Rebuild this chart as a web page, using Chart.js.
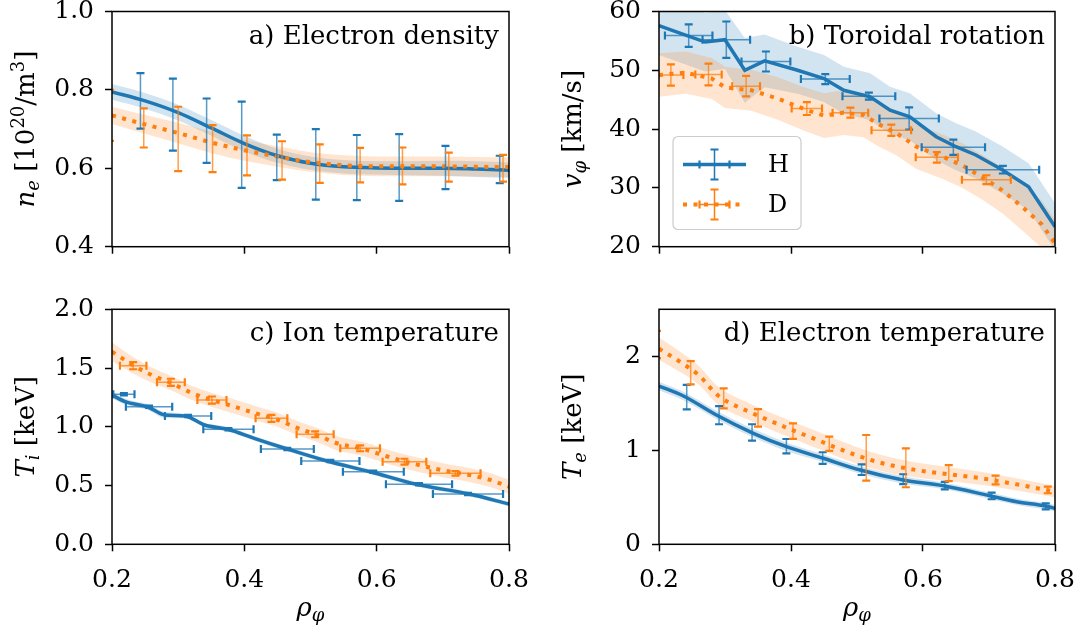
<!DOCTYPE html>
<html>
<head>
<meta charset="utf-8">
<script src="https://cdn.jsdelivr.net/npm/chart.js@4.4.1/dist/chart.umd.min.js"></script>
<style>
  body { margin: 0; background: #fff; }
  #wrap { position: relative; width: 1080px; height: 637px; overflow: hidden; }
  canvas { position: absolute; }
</style>
</head>
<body>
<div id="wrap">
  <canvas id="pa" width="547" height="300" style="left:0;top:0"></canvas>
  <canvas id="pb" width="533" height="300" style="left:547px;top:0"></canvas>
  <canvas id="pc" width="547" height="357" style="left:0;top:280px"></canvas>
  <canvas id="pd" width="533" height="357" style="left:547px;top:280px"></canvas>
</div>
<script>
// x ticks shared by all panels
const rhoTicks = [0.2, 0.4, 0.6, 0.8];

// a) electron density
const neTicks = [0.4, 0.6, 0.8, 1.0];
const neRho = [0.2, 0.25, 0.3, 0.35, 0.4, 0.45, 0.5, 0.55, 0.6, 0.65, 0.7, 0.75, 0.8];
const neFitH = [0.795, 0.772, 0.742, 0.703, 0.663, 0.632, 0.613, 0.604, 0.601, 0.600, 0.600, 0.598, 0.595];
const neBandH = [0.02, 0.02, 0.02, 0.02, 0.02, 0.018, 0.017, 0.017, 0.017, 0.018, 0.019, 0.02, 0.02];
const neFitD = [0.735, 0.712, 0.690, 0.666, 0.646, 0.630, 0.616, 0.608, 0.605, 0.605, 0.605, 0.604, 0.603];
const neBandD = [0.022, 0.024, 0.026, 0.027, 0.027, 0.026, 0.025, 0.025, 0.025, 0.025, 0.025, 0.025, 0.025];
const nePtRhoH = [0.243, 0.292, 0.343, 0.396, 0.449, 0.508, 0.570, 0.634, 0.704, 0.786];
const nePtH = [0.772, 0.737, 0.696, 0.660, 0.628, 0.610, 0.602, 0.602, 0.602, 0.597];
const neErrH = [0.071, 0.092, 0.082, 0.110, 0.058, 0.090, 0.083, 0.085, 0.055, 0.035];
const nePtRhoD = [0.197, 0.248, 0.300, 0.352, 0.404, 0.457, 0.514, 0.575, 0.639, 0.709, 0.791];
const nePtD = [0.735, 0.703, 0.675, 0.650, 0.633, 0.620, 0.612, 0.608, 0.606, 0.603, 0.600];
const neErrD = [0.065, 0.050, 0.082, 0.060, 0.051, 0.049, 0.049, 0.044, 0.047, 0.037, 0.034];

// b) toroidal rotation
const vtTicks = [20, 30, 40, 50, 60];
const vtRhoH = [0.2, 0.22, 0.27, 0.30, 0.33, 0.36, 0.41, 0.45, 0.48, 0.52, 0.55, 0.58, 0.62, 0.65, 0.68, 0.72, 0.76, 0.8];
const vtFitH = [57.6, 56.8, 54.8, 55.2, 50.0, 51.6, 50.0, 48.6, 46.6, 45.5, 43.2, 42.1, 38.7, 37.0, 35.6, 33.1, 30.2, 23.4];
const vtBandH = [5, 5, 5, 5, 5.5, 4.5, 4, 4, 4, 4, 4, 4, 4, 4, 4, 4, 4, 4];
const vtRhoD = [0.2, 0.24, 0.28, 0.30, 0.34, 0.38, 0.42, 0.45, 0.48, 0.51, 0.53, 0.56, 0.59, 0.63, 0.66, 0.69, 0.72, 0.75, 0.78, 0.8];
const vtFitD = [49.2, 49.6, 48.6, 47.1, 46.6, 45.2, 43.4, 42.3, 42.8, 42.4, 41.0, 39.3, 37.0, 35.3, 33.8, 31.8, 29.6, 26.8, 23.8, 20.6];
const vtBandD = [3.7, 3.6, 3.5, 3.5, 3.5, 3.6, 3.7, 3.8, 3.8, 3.8, 3.8, 3.8, 3.8, 3.8, 3.8, 3.8, 3.9, 4, 4, 4];
const vtPtRhoH = [0.245, 0.302, 0.362, 0.452, 0.518, 0.579, 0.646, 0.721];
const vtPtH = [55.9, 55.2, 51.5, 48.5, 45.6, 41.8, 36.9, 33.1];
const vtXErrH = [0.036, 0.036, 0.037, 0.037, 0.040, 0.045, 0.048, 0.055];
const vtYErrH = [1.9, 3.1, 1.7, 0.85, 0.6, 1.9, 1.3, 0.65];
const vtPtRhoD = [0.218, 0.275, 0.332, 0.424, 0.490, 0.552, 0.621, 0.696];
const vtPtD = [49.2, 49.3, 47.3, 43.5, 42.8, 39.8, 35.2, 31.4];
const vtXErrD = [0.019, 0.020, 0.021, 0.023, 0.027, 0.030, 0.032, 0.037];
const vtYErrD = [1.8, 1.85, 1.75, 1.1, 0.85, 0.95, 0.9, 0.75];

// c) ion temperature
const tiTicks = [0.0, 0.5, 1.0, 1.5, 2.0];
const tiRhoH = [0.2, 0.22, 0.255, 0.28, 0.31, 0.34, 0.375, 0.415, 0.465, 0.525, 0.59, 0.66, 0.74, 0.8];
const tiFitH = [1.27, 1.214, 1.166, 1.10, 1.092, 1.015, 0.979, 0.902, 0.811, 0.709, 0.618, 0.511, 0.428, 0.343];
const tiBandH = [0.03, 0.025, 0.025, 0.025, 0.02, 0.02, 0.02, 0.02, 0.02, 0.02, 0.02, 0.02, 0.02, 0.02];
const tiRhoD = [0.2, 0.23, 0.26, 0.29, 0.32, 0.35, 0.38, 0.42, 0.45, 0.48, 0.51, 0.54, 0.58, 0.62, 0.66, 0.70, 0.74, 0.77, 0.8];
const tiFitD = [1.64, 1.53, 1.44, 1.37, 1.29, 1.23, 1.18, 1.11, 1.06, 0.99, 0.93, 0.86, 0.81, 0.74, 0.68, 0.63, 0.59, 0.55, 0.49];
const tiBandD = [0.08, 0.07, 0.065, 0.06, 0.06, 0.06, 0.06, 0.06, 0.06, 0.06, 0.06, 0.06, 0.06, 0.06, 0.06, 0.06, 0.06, 0.06, 0.06];
const tiPtRhoH = [0.218, 0.256, 0.315, 0.376, 0.465, 0.530, 0.595, 0.664, 0.738];
const tiPtH = [1.277, 1.171, 1.092, 0.979, 0.811, 0.709, 0.618, 0.511, 0.428];
const tiXErrH = [0.016, 0.035, 0.035, 0.038, 0.040, 0.044, 0.046, 0.050, 0.053];
const tiYErrH = [0.01, 0.01, 0.01, 0.01, 0.01, 0.01, 0.01, 0.01, 0.01];
const tiPtRhoD = [0.232, 0.289, 0.351, 0.441, 0.507, 0.575, 0.642, 0.719];
const tiPtD = [1.52, 1.379, 1.228, 1.072, 0.936, 0.817, 0.703, 0.604];
const tiXErrD = [0.020, 0.021, 0.022, 0.024, 0.028, 0.030, 0.033, 0.038];
const tiYErrD = [0.03, 0.03, 0.03, 0.03, 0.025, 0.025, 0.025, 0.02];

// d) electron temperature
const teTicks = [0, 1, 2];
const teRhoH = [0.2, 0.237, 0.287, 0.343, 0.393, 0.449, 0.505, 0.57, 0.631, 0.701, 0.742, 0.785, 0.8];
const teFitH = [1.684, 1.578, 1.376, 1.181, 1.038, 0.915, 0.790, 0.684, 0.623, 0.517, 0.453, 0.407, 0.383];
const teBandH = [0.045, 0.045, 0.045, 0.045, 0.045, 0.04, 0.04, 0.04, 0.035, 0.035, 0.035, 0.035, 0.035];
const teRhoD = [0.2, 0.23, 0.26, 0.29, 0.34, 0.39, 0.44, 0.49, 0.54, 0.59, 0.64, 0.69, 0.74, 0.8];
const teFitD = [2.08, 1.95, 1.80, 1.58, 1.40, 1.25, 1.11, 0.97, 0.86, 0.79, 0.745, 0.70, 0.64, 0.56];
const teBandD = [0.12, 0.11, 0.10, 0.095, 0.09, 0.09, 0.09, 0.09, 0.085, 0.08, 0.075, 0.07, 0.065, 0.06];
const tePtRhoH = [0.242, 0.291, 0.341, 0.393, 0.448, 0.507, 0.570, 0.633, 0.704, 0.786];
const tePtH = [1.565, 1.374, 1.19, 1.044, 0.917, 0.794, 0.693, 0.625, 0.514, 0.404];
const teErrH = [0.13, 0.097, 0.087, 0.076, 0.062, 0.057, 0.052, 0.04, 0.035, 0.032];
const tePtRhoD = [0.197, 0.248, 0.298, 0.350, 0.403, 0.458, 0.514, 0.574, 0.639, 0.710, 0.789];
const tePtD = [2.125, 1.825, 1.553, 1.345, 1.204, 1.069, 0.92, 0.814, 0.758, 0.684, 0.578];
const teErrD = [0.145, 0.124, 0.106, 0.094, 0.083, 0.076, 0.243, 0.207, 0.085, 0.046, 0.035];

const BLUE = '#1f77b4';
const ORANGE = '#ff7f0e';
const FONT = '"DejaVu Serif"';

const pts = (xs, ys) => xs.map((x, i) => ({ x: x, y: ys[i] }));
const shifted = (xs, ys, w, sign) => xs.map((x, i) => ({ x: x, y: ys[i] + sign * w[i] }));

function fontFor(kind, size) {
  const small = kind === 'is' || kind === 'sup';
  const it = kind === 'i' || kind === 'is';
  return (it ? 'italic ' : '') + Math.round(small ? size * 0.7 : size) + 'px ' + FONT;
}

// draws mixed italic / sub / superscript text centred on (x, y)
function drawRich(ctx, parts, x, y, size, rotate) {
  ctx.save();
  ctx.translate(x, y);
  if (rotate) ctx.rotate(-Math.PI / 2);
  ctx.textAlign = 'left';
  ctx.textBaseline = 'alphabetic';
  ctx.fillStyle = '#000';
  let w = 0;
  parts.forEach(p => { ctx.font = fontFor(p[1], size); w += ctx.measureText(p[0]).width; });
  let cx = -w / 2;
  parts.forEach(p => {
    ctx.font = fontFor(p[1], size);
    let dy = 0;
    if (p[1] === 'is') dy = size * 0.2;
    if (p[1] === 'sup') dy = -size * 0.38;
    ctx.fillText(p[0], cx, dy);
    cx += ctx.measureText(p[0]).width;
  });
  ctx.restore();
}

const errorBars = {
  id: 'errorBars',
  afterDatasetsDraw(chart, args, opts) {
    const { ctx, chartArea: a, scales: { x, y } } = chart;
    ctx.save();
    ctx.beginPath();
    ctx.rect(a.left, a.top, a.width, a.height);
    ctx.clip();
    (opts.sets || []).forEach(s => {
      s.x.forEach((xv, i) => {
        const px = x.getPixelForValue(xv);
        const py = y.getPixelForValue(s.y[i]);
        if (s.yerr) {
          const y0 = y.getPixelForValue(s.y[i] - s.yerr[i]);
          const y1 = y.getPixelForValue(s.y[i] + s.yerr[i]);
          ctx.strokeStyle = s.color; ctx.globalAlpha = 0.75; ctx.lineWidth = 1.5;
          ctx.beginPath(); ctx.moveTo(px, y0); ctx.lineTo(px, y1); ctx.stroke();
          ctx.globalAlpha = 1; ctx.lineWidth = 2.2;
          ctx.beginPath();
          ctx.moveTo(px - 4, y0); ctx.lineTo(px + 4, y0);
          ctx.moveTo(px - 4, y1); ctx.lineTo(px + 4, y1);
          ctx.stroke();
        }
        if (s.xerr) {
          const x0 = x.getPixelForValue(xv - s.xerr[i]);
          const x1 = x.getPixelForValue(xv + s.xerr[i]);
          ctx.strokeStyle = s.color; ctx.globalAlpha = 0.75; ctx.lineWidth = 1.5;
          ctx.beginPath(); ctx.moveTo(x0, py); ctx.lineTo(x1, py); ctx.stroke();
          ctx.globalAlpha = 1; ctx.lineWidth = 2.2;
          ctx.beginPath();
          ctx.moveTo(x0, py - 4); ctx.lineTo(x0, py + 4);
          ctx.moveTo(x1, py - 4); ctx.lineTo(x1, py + 4);
          ctx.stroke();
        }
      });
    });
    ctx.restore();
  }
};

const deco = {
  id: 'deco',
  afterDraw(chart, args, o) {
    const { ctx, chartArea: a } = chart;
    // frame on all four sides
    ctx.save();
    ctx.strokeStyle = '#000';
    ctx.lineWidth = 1.5;
    ctx.strokeRect(a.left, a.top, a.right - a.left, a.bottom - a.top);
    // panel title inside the axes
    ctx.fillStyle = '#000';
    ctx.font = '26px ' + FONT;
    ctx.textAlign = 'right';
    ctx.textBaseline = 'alphabetic';
    ctx.fillText(o.title, a.right - 10, a.top + 32);
    ctx.restore();
    drawRich(ctx, o.ylabel, o.ylabelX, (a.top + a.bottom) / 2, 26, true);
    if (o.xlabel) drawRich(ctx, o.xlabel, (a.left + a.right) / 2, o.xlabelY, 26, false);
    if (o.legend) drawLegend(ctx, a);
  }
};

function legendMarker(ctx, x0, x1, yy, color, dash) {
  const mid = (x0 + x1) / 2;
  ctx.strokeStyle = color;
  ctx.lineWidth = dash ? 4 : 3.5;
  ctx.setLineDash(dash ? [4, 6.5] : []);
  ctx.beginPath(); ctx.moveTo(x0, yy); ctx.lineTo(x1, yy); ctx.stroke();
  ctx.setLineDash([]);
  ctx.lineWidth = 1.5;
  ctx.beginPath();
  ctx.moveTo(mid, yy - 15); ctx.lineTo(mid, yy + 15);
  ctx.moveTo(mid - 15, yy); ctx.lineTo(mid + 15, yy);
  ctx.stroke();
  ctx.lineWidth = 2.2;
  ctx.beginPath();
  ctx.moveTo(mid - 4, yy - 15); ctx.lineTo(mid + 4, yy - 15);
  ctx.moveTo(mid - 4, yy + 15); ctx.lineTo(mid + 4, yy + 15);
  ctx.moveTo(mid - 15, yy - 4); ctx.lineTo(mid - 15, yy + 4);
  ctx.moveTo(mid + 15, yy - 4); ctx.lineTo(mid + 15, yy + 4);
  ctx.stroke();
}

function drawLegend(ctx, a) {
  const bx = a.left + 14, by = a.top + 125, bw = 128, bh = 93;
  ctx.save();
  ctx.fillStyle = 'rgba(255,255,255,0.8)';
  ctx.strokeStyle = '#cccccc';
  ctx.lineWidth = 1.2;
  ctx.beginPath();
  ctx.roundRect(bx, by, bw, bh, 5);
  ctx.fill();
  ctx.stroke();
  legendMarker(ctx, bx + 10, bx + 73, by + 28, BLUE, false);
  legendMarker(ctx, bx + 10, bx + 73, by + 68, ORANGE, true);
  ctx.fillStyle = '#000';
  ctx.font = '24px ' + FONT;
  ctx.textAlign = 'left';
  ctx.textBaseline = 'middle';
  ctx.fillText('H', bx + 95, by + 29);
  ctx.fillText('D', bx + 95, by + 69);
  ctx.restore();
}

function fitLine(data, color, dash, smooth) {
  return {
    data: data, borderColor: color, borderWidth: dash ? 4 : 3.5,
    borderDash: dash ? [4, 6.5] : [], borderCapStyle: 'butt',
    pointRadius: 0, fill: false, clip: 0,
    cubicInterpolationMode: smooth ? 'monotone' : 'default', tension: 0
  };
}

function bandEdge(data, fillColor, smooth) {
  return {
    data: data, borderWidth: 0, borderColor: 'rgba(0,0,0,0)', pointRadius: 0, clip: 0,
    fill: fillColor ? '-1' : false, backgroundColor: fillColor || 'rgba(0,0,0,0)',
    cubicInterpolationMode: smooth ? 'monotone' : 'default', tension: 0
  };
}

const tickFont = { family: 'DejaVu Serif', size: 25, lineHeight: 1 };
const gridOpt = { display: true, drawOnChartArea: false, drawTicks: true, tickLength: 7, tickWidth: 1.5, tickColor: '#000' };

function panel(id, p) {
  return new Chart(document.getElementById(id), {
    type: 'line',
    data: {
      datasets: [
        fitLine(pts(p.rhoD, p.fitD), ORANGE, true, p.smooth),
        fitLine(pts(p.rhoH, p.fitH), BLUE, false, p.smooth),
        bandEdge(shifted(p.rhoD, p.fitD, p.bandD, 1), null, p.smooth),
        bandEdge(shifted(p.rhoD, p.fitD, p.bandD, -1), 'rgba(255,127,14,0.2)', p.smooth),
        bandEdge(shifted(p.rhoH, p.fitH, p.bandH, 1), null, p.smooth),
        bandEdge(shifted(p.rhoH, p.fitH, p.bandH, -1), 'rgba(31,119,180,0.2)', p.smooth)
      ]
    },
    options: {
      responsive: false,
      animation: false,
      events: [],
      layout: { padding: { top: p.padTop, right: p.padRight, left: 0, bottom: 0 } },
      plugins: {
        legend: { display: false },
        tooltip: { enabled: false },
        filler: { drawTime: 'beforeDatasetsDraw' },
        errorBars: { sets: p.errSets },
        deco: { title: p.title, ylabel: p.ylabel, ylabelX: 34, xlabel: p.xlabel, xlabelY: 336, legend: p.legend }
      },
      scales: {
        x: {
          type: 'linear', min: 0.2, max: 0.8,
          afterBuildTicks: s => { s.ticks = rhoTicks.map(v => ({ value: v })); },
          afterFit: s => { s.height = p.xHeight; s.paddingLeft = 0; s.paddingRight = 0; },
          ticks: { display: p.xLabels, callback: v => v.toFixed(1), font: tickFont, color: '#000', padding: 17, maxRotation: 0, autoSkip: false },
          grid: gridOpt,
          border: { display: false }
        },
        y: {
          min: p.ymin, max: p.ymax,
          afterBuildTicks: s => { s.ticks = p.yTicks.map(v => ({ value: v })); },
          afterFit: s => { s.width = 112; s.paddingTop = 0; s.paddingBottom = 0; },
          ticks: { callback: v => v.toFixed(p.yDec), font: tickFont, color: '#000', padding: 11, autoSkip: false },
          grid: gridOpt,
          border: { display: false }
        }
      }
    },
    plugins: [errorBars, deco]
  });
}

panel('pa', {
  title: 'a) Electron density',
  ylabel: [['n', 'i'], ['e', 'is'], [' [10', 'r'], ['20', 'sup'], ['/m', 'r'], ['3', 'sup'], [']', 'r']],
  ymin: 0.4, ymax: 1.0, yTicks: neTicks, yDec: 1, smooth: true,
  rhoH: neRho, fitH: neFitH, bandH: neBandH, rhoD: neRho, fitD: neFitD, bandD: neBandD,
  errSets: [
    { x: nePtRhoH, y: nePtH, yerr: neErrH, color: BLUE },
    { x: nePtRhoD, y: nePtD, yerr: neErrD, color: ORANGE }
  ],
  padTop: 11.5, padRight: 38, xHeight: 53.3, xLabels: false
});

panel('pb', {
  title: 'b) Toroidal rotation',
  ylabel: [['v', 'i'], ['\u03c6', 'is'], [' [km/s]', 'r']],
  ymin: 20, ymax: 60, yTicks: vtTicks, yDec: 0, smooth: false,
  rhoH: vtRhoH, fitH: vtFitH, bandH: vtBandH, rhoD: vtRhoD, fitD: vtFitD, bandD: vtBandD,
  errSets: [
    { x: vtPtRhoH, y: vtPtH, xerr: vtXErrH, yerr: vtYErrH, color: BLUE },
    { x: vtPtRhoD, y: vtPtD, xerr: vtXErrD, yerr: vtYErrD, color: ORANGE }
  ],
  padTop: 11.5, padRight: 25, xHeight: 53.3, xLabels: false, legend: true
});

panel('pc', {
  title: 'c) Ion temperature',
  ylabel: [['T', 'i'], ['i', 'is'], [' [keV]', 'r']],
  xlabel: [['\u03c1', 'i'], ['\u03c6', 'is']],
  ymin: 0, ymax: 2.0, yTicks: tiTicks, yDec: 1, smooth: true,
  rhoH: tiRhoH, fitH: tiFitH, bandH: tiBandH, rhoD: tiRhoD, fitD: tiFitD, bandD: tiBandD,
  errSets: [
    { x: tiPtRhoH, y: tiPtH, xerr: tiXErrH, yerr: tiYErrH, color: BLUE },
    { x: tiPtRhoD, y: tiPtD, xerr: tiXErrD, yerr: tiYErrD, color: ORANGE }
  ],
  padTop: 29.3, padRight: 38, xHeight: 92.7, xLabels: true
});

panel('pd', {
  title: 'd) Electron temperature',
  ylabel: [['T', 'i'], ['e', 'is'], [' [keV]', 'r']],
  xlabel: [['\u03c1', 'i'], ['\u03c6', 'is']],
  ymin: 0, ymax: 2.5, yTicks: teTicks, yDec: 0, smooth: true,
  rhoH: teRhoH, fitH: teFitH, bandH: teBandH, rhoD: teRhoD, fitD: teFitD, bandD: teBandD,
  errSets: [
    { x: tePtRhoH, y: tePtH, yerr: teErrH, color: BLUE },
    { x: tePtRhoD, y: tePtD, yerr: teErrD, color: ORANGE }
  ],
  padTop: 29.3, padRight: 25, xHeight: 92.7, xLabels: true
});
</script>
</body>
</html>
